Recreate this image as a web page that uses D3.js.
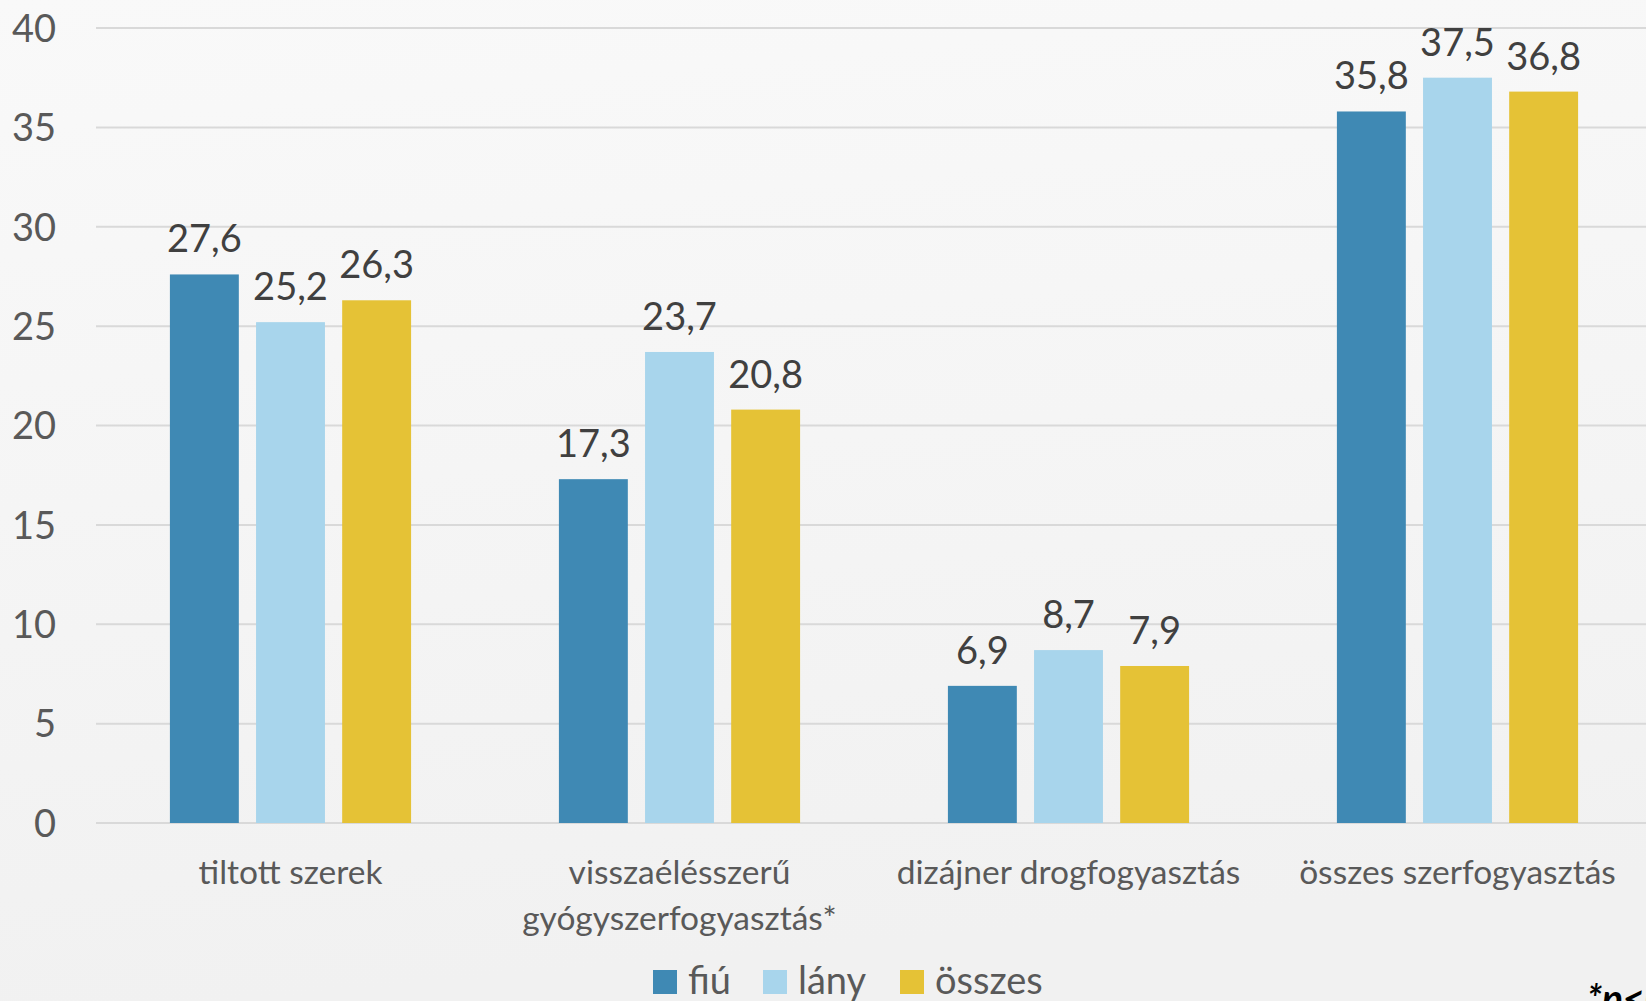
<!DOCTYPE html>
<html>
<head>
<meta charset="utf-8">
<script src="https://cdn.jsdelivr.net/npm/d3@7"></script>
<style>
  body { margin: 0; overflow: hidden; }
  text { font-family: Lato, "Open Sans", sans-serif; }
</style>
</head>
<body>
<div id="chart"></div>
<script>
// data
var categories = ["tiltott szerek", "visszaélésszerű\ngyógyszerfogyasztás*", "dizájner drogfogyasztás", "összes szerfogyasztás"];
var seriesNames = ["fiú", "lány", "összes"];
var fiu = [27.6, 17.3, 6.9, 35.8];
var lany = [25.2, 23.7, 8.7, 37.5];
var osszes = [26.3, 20.8, 7.9, 36.8];
var yTicks = [0, 5, 10, 15, 20, 25, 30, 35, 40];
var colors = ["#3f89b4", "#a8d5ec", "#e5c236"];

var svgWidth = 1646;
var svgHeight = 1001;

var svg = d3.select("#chart")
  .append("svg")
  .attr("width", svgWidth)
  .attr("height", svgHeight);

// background gradient
var defs = svg.append("defs");
var grad = defs.append("linearGradient")
  .attr("id", "bg")
  .attr("x1", 0).attr("y1", 0).attr("x2", 0.15).attr("y2", 1);
grad.append("stop").attr("offset", "0%").attr("stop-color", "#f9f9f9");
grad.append("stop").attr("offset", "100%").attr("stop-color", "#f1f1f1");
svg.append("rect").attr("width", svgWidth).attr("height", svgHeight).attr("fill", "url(#bg)");

var plotLeft = 96, plotRight = 1652;
var yTop = 28, yBottom = 823;

var x0 = d3.scaleBand()
  .domain(categories)
  .range([plotLeft, plotRight])
  .paddingInner(0.38)
  .paddingOuter(0.19);

var x1 = d3.scaleBand()
  .domain(seriesNames)
  .range([0, x0.bandwidth()])
  .paddingInner(0.2);

var y = d3.scaleLinear()
  .domain([0, 40])
  .range([yBottom, yTop]);

// gridlines
svg.append("g")
  .selectAll("line")
  .data(yTicks)
  .enter()
  .append("line")
  .attr("x1", plotLeft)
  .attr("x2", svgWidth)
  .attr("y1", d => y(d))
  .attr("y2", d => y(d))
  .attr("stroke", "#d9d9d9")
  .attr("stroke-width", 2);

// y axis labels
var yAxis = d3.axisLeft(y).tickValues(yTicks).tickSize(0).tickPadding(0);
var yAxisG = svg.append("g")
  .attr("transform", "translate(56,0)")
  .call(yAxis);
yAxisG.select(".domain").remove();
yAxisG.selectAll("text")
  .attr("fill", "#595959")
  .style("font-size", "38px")
  .attr("dy", "0.35em");

var rows = categories.map((c, i) => ({
  cat: c,
  values: [fiu[i], lany[i], osszes[i]]
}));

var groups = svg.append("g")
  .selectAll("g")
  .data(rows)
  .enter()
  .append("g")
  .attr("transform", d => `translate(${x0(d.cat)},0)`);

groups.selectAll("rect")
  .data(d => d.values.map((v, j) => ({ key: seriesNames[j], value: v, color: colors[j] })))
  .enter()
  .append("rect")
  .attr("x", d => x1(d.key))
  .attr("width", x1.bandwidth())
  .attr("y", d => y(d.value))
  .attr("height", d => y(0) - y(d.value))
  .attr("fill", d => d.color);

groups.selectAll("text.val")
  .data(d => d.values.map((v, j) => ({ key: seriesNames[j], value: v })))
  .enter()
  .append("text")
  .attr("class", "val")
  .attr("x", d => x1(d.key) + x1.bandwidth() / 2)
  .attr("y", d => y(d.value) - 22)
  .attr("text-anchor", "middle")
  .attr("fill", "#404040")
  .style("font-size", "38px")
  .text(d => d3.format(".1f")(d.value).replace(".", ","));

// category labels
var catLabels = svg.append("g")
  .selectAll("text")
  .data(categories)
  .enter()
  .append("text")
  .attr("x", d => x0(d) + x0.bandwidth() / 2)
  .attr("y", 884)
  .attr("text-anchor", "middle")
  .attr("fill", "#595959")
  .style("font-size", "33.5px");
catLabels.each(function(d) {
  var lines = d.split("\n");
  var t = d3.select(this);
  lines.forEach((l, k) => {
    t.append("tspan")
      .attr("x", x0(d) + x0.bandwidth() / 2)
      .attr("dy", k === 0 ? 0 : 46)
      .text(l);
  });
});

// legend
var legendX = [653, 763, 900];
var legend = svg.append("g")
  .selectAll("g")
  .data(seriesNames)
  .enter()
  .append("g")
  .attr("transform", (d, i) => `translate(${legendX[i]},970)`);
legend.append("rect")
  .attr("width", 24)
  .attr("height", 24)
  .attr("fill", (d, i) => colors[i]);
legend.append("text")
  .attr("x", 35)
  .attr("y", 24)
  .attr("fill", "#595959")
  .style("font-size", "38px")
  .text(d => d);

// footnote (cut off at the right edge, as in the source)
svg.append("text")
  .attr("x", 1587)
  .attr("y", 1012)
  .attr("fill", "#000")
  .style("font-size", "38px")
  .style("font-weight", "bold")
  .style("font-style", "italic")
  .text("*p<0,05");
</script>
</body>
</html>
